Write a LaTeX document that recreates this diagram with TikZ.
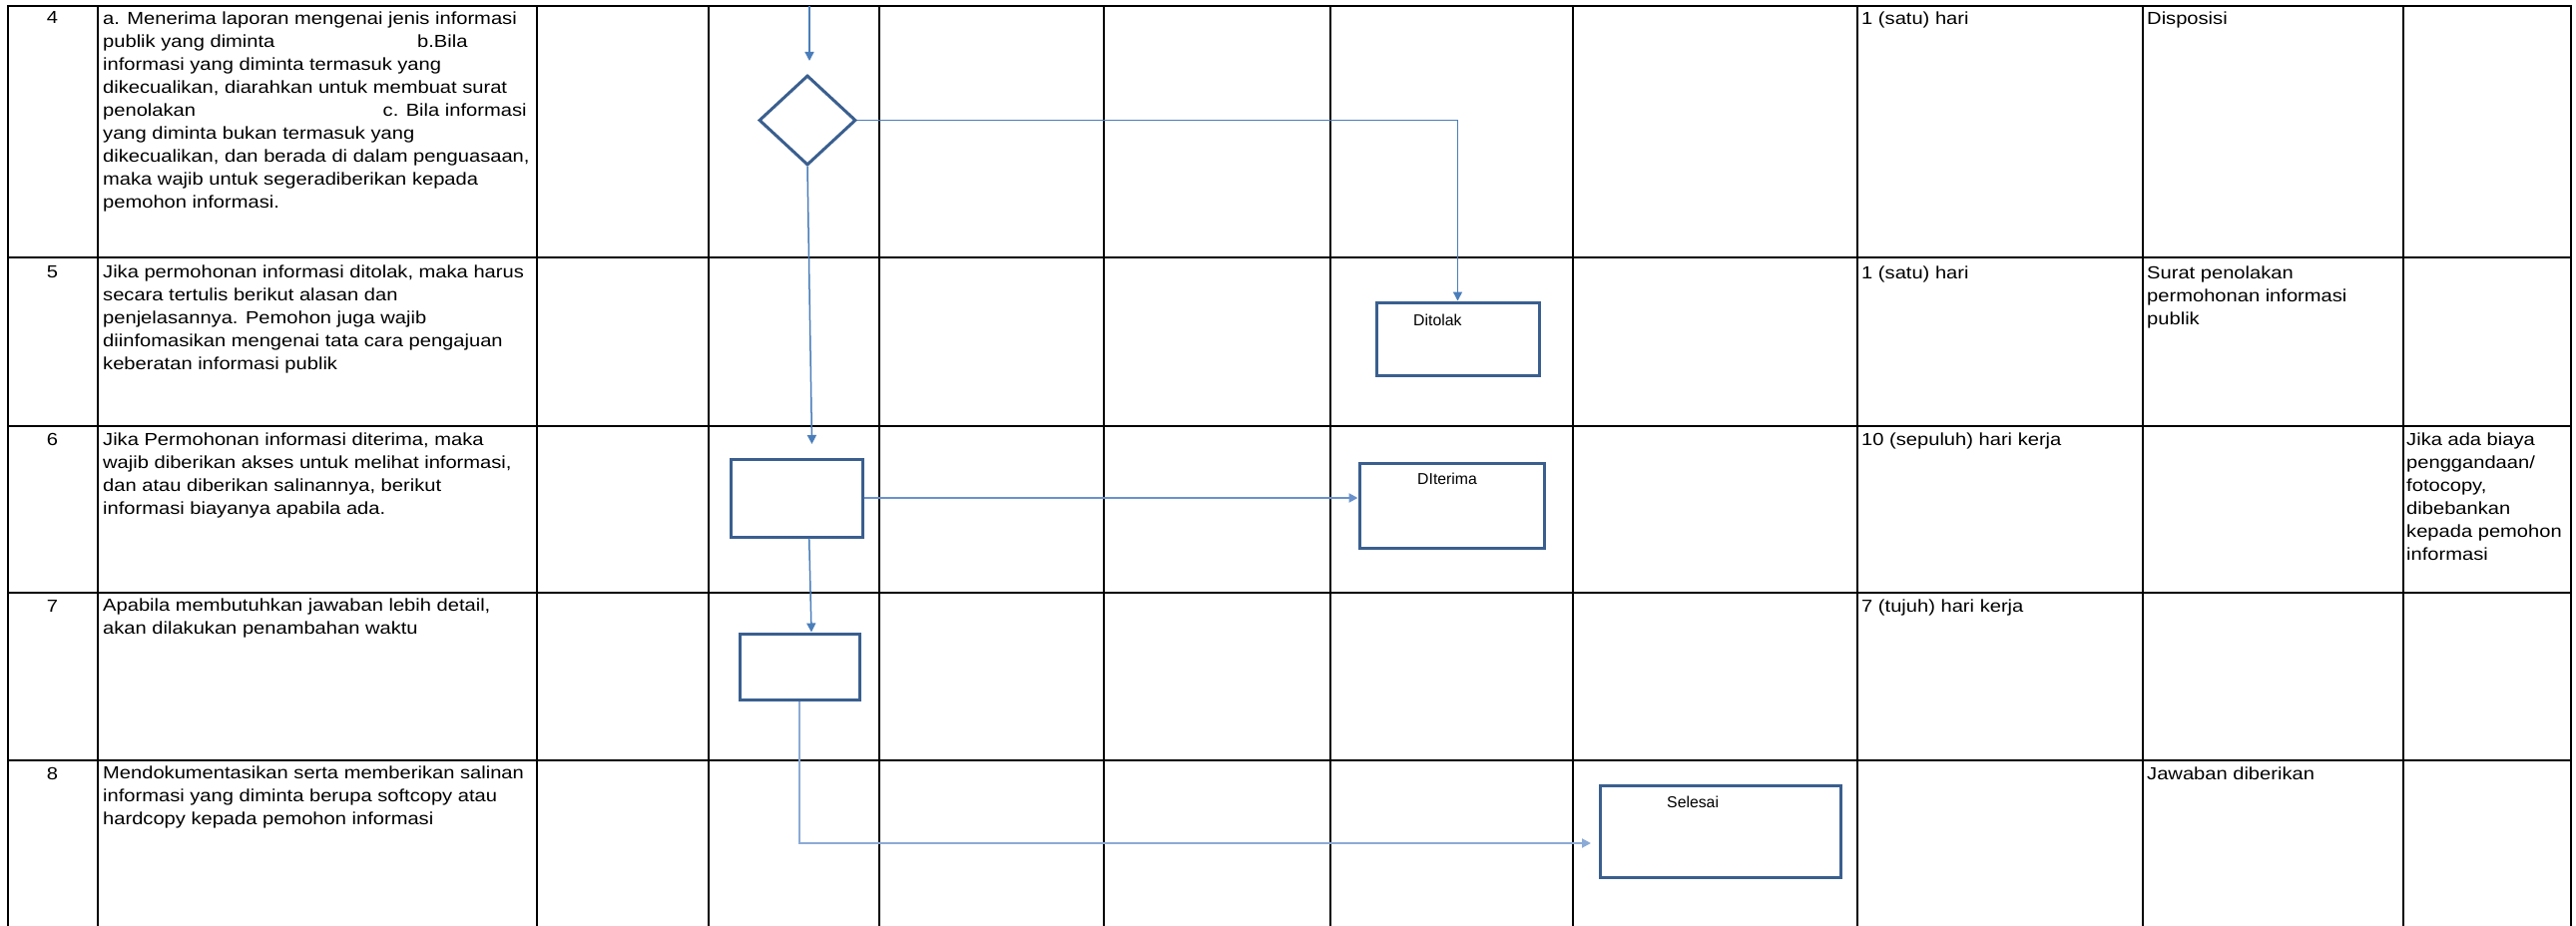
\documentclass[tikz,border=0pt]{standalone}
\usepackage{fontspec}
\setmainfont{Liberation Sans}
\newfontfamily\tfont{Liberation Sans}[FakeStretch=1.15]
\newfontfamily\lfont{Liberation Sans}
\usetikzlibrary{shapes.geometric,arrows.meta}
\definecolor{shapec}{RGB}{58,95,143}
\definecolor{connc}{RGB}{74,126,187}
\definecolor{connl}{RGB}{105,146,204}
\definecolor{connx}{RGB}{140,170,214}
\begin{document}
\begin{tikzpicture}[x=1pt,y=-1pt,
  gridline/.style={draw=black,line width=2.2pt,line cap=rect},
  shp/.style={draw=shapec,line width=3pt,fill=white,inner sep=0pt},
  conn/.style={draw=connc,line width=1.5pt,-{Triangle[length=9pt,width=9pt]}},
  txt/.style={font=\tfont\fontsize{17.5}{23}\selectfont,inner sep=0pt,anchor=north west,align=left},
  num/.style={font=\tfont\fontsize{17.5}{23}\selectfont,inner sep=0pt,anchor=base},
  lbl/.style={font=\lfont\fontsize{15.8}{19}\selectfont,inner sep=0pt,anchor=base west}]
\useasboundingbox (0,0) rectangle (2581,928);
\fill[white] (0,0) rectangle (2581,928);
% table grid
\foreach \y in {6,258,427,594,762} \draw[gridline] (8,\y) -- (2576,\y);
\foreach \x in {8,98,538,710,881,1106,1333,1576,1861,2147,2408,2576} \draw[gridline] (\x,6) -- (\x,930);
% row numbers
\node[num] (n4) at (52.5,24) {4};
\node[num] (n5) at (52.5,278) {5};
\node[num] (n6) at (52.5,446) {6};
\node[num] (n7) at (52.5,613) {7};
\node[num] (n8) at (52.5,781) {8};
% activity texts
\node[txt] (t4) at (103,7) {\rule{0pt}{17pt}a. Menerima laporan mengenai jenis informasi\\
\makebox[315pt][l]{publik yang diminta}b.Bila\\
informasi yang diminta termasuk yang\\
dikecualikan, diarahkan untuk membuat surat\\
\makebox[280.5pt][l]{penolakan}c. Bila informasi\\
yang diminta bukan termasuk yang\\
dikecualikan, dan berada di dalam penguasaan,\\
maka wajib untuk segeradiberikan kepada\\
pemohon informasi.};
\node[txt] (t5) at (103,261.3) {\rule{0pt}{17pt}Jika permohonan informasi ditolak, maka harus\\
secara tertulis berikut alasan dan\\
penjelasannya. Pemohon juga wajib\\
diinfomasikan mengenai tata cara pengajuan\\
keberatan informasi publik};
\node[txt] (t6) at (103,429) {\rule{0pt}{17pt}Jika Permohonan informasi diterima, maka\\
wajib diberikan akses untuk melihat informasi,\\
dan atau diberikan salinannya, berikut\\
informasi biayanya apabila ada.};
\node[txt] (t7) at (103,595.7) {\rule{0pt}{17pt}Apabila membutuhkan jawaban lebih detail,\\
akan dilakukan penambahan waktu};
\node[txt] (t8) at (103,763.7) {\rule{0pt}{17pt}Mendokumentasikan serta memberikan salinan\\
informasi yang diminta berupa softcopy atau\\
hardcopy kepada pemohon informasi};
% time column
\node[txt] (d4) at (1865,7) {\rule{0pt}{17pt}1 (satu) hari};
\node[txt] (d5) at (1865,262) {\rule{0pt}{17pt}1 (satu) hari};
\node[txt] (d6) at (1865,429) {\rule{0pt}{17pt}10 (sepuluh) hari kerja};
\node[txt] (d7) at (1865,596) {\rule{0pt}{17pt}7 (tujuh) hari kerja};
% output column
\node[txt] (o4) at (2151,7) {\rule{0pt}{17pt}Disposisi};
\node[txt] (o5) at (2151,262) {\rule{0pt}{17pt}Surat penolakan\\permohonan informasi\\publik};
\node[txt] (o8) at (2151,764) {\rule{0pt}{17pt}Jawaban diberikan};
% notes column
\node[txt] (k6) at (2411,429) {\rule{0pt}{17pt}Jika ada biaya\\penggandaan/\\fotocopy,\\dibebankan\\kepada pemohon\\informasi};
% flow shapes
\node[shp,diamond,minimum width=97pt,minimum height=90pt] (dia) at (809,120.5) {};
\node[shp,minimum width=132pt,minimum height=78pt] (b6) at (798,499) {};
\node[shp,minimum width=120pt,minimum height=66pt] (b7) at (801,668) {};
\node[shp,minimum width=163pt,minimum height=73pt] (tolak) at (1460.5,339.5) {};
\node[shp,minimum width=185pt,minimum height=85pt] (terima) at (1454.5,506.5) {};
\node[shp,minimum width=241pt,minimum height=92pt] (selesai) at (1723.5,833) {};
\node[lbl] (tolakT) at (1416,326) {Ditolak};
\node[lbl] (terimaT) at (1420,485) {DIterima};
\node[lbl] (selesaiT) at (1670,809) {Selesai};
% connectors
\coordinate (topIn) at (811,6);
\coordinate (diaIn) at (811,61);
\coordinate (b6In) at (813.5,445);
\coordinate (selIn) at (1594,845);
\draw[conn] (topIn) -- (diaIn);
\draw[conn] (dia.east) -| (tolak.north);
\draw[conn] (dia.south) -- (b6In);
\draw[conn,draw=connl,line width=2pt] (b6.east) -- (b6.east -| terima.west);
\draw[conn] ([xshift=12.7pt]b6.south) -- ([xshift=12pt]b7.north);
\draw[conn,draw=connx,line width=2pt] (b7.south) |- (selIn);
\end{tikzpicture}
\end{document}
